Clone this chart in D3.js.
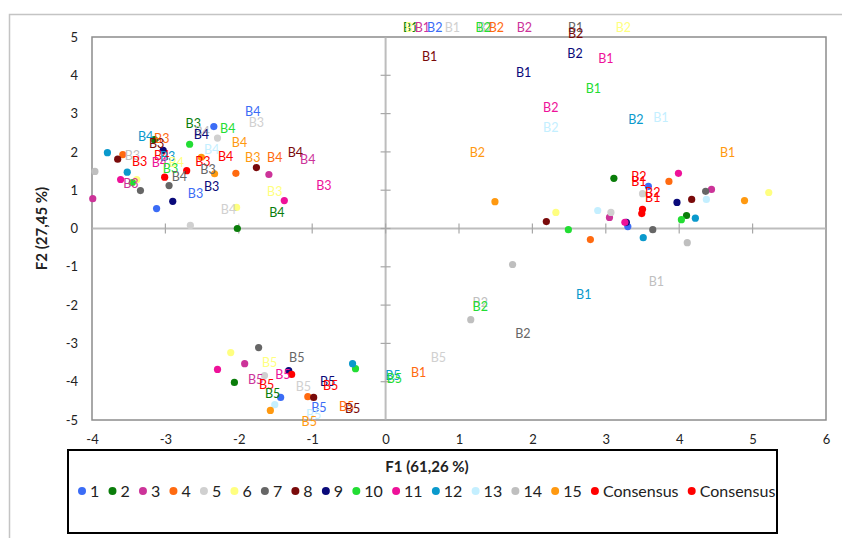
<!DOCTYPE html>
<html>
<head>
<meta charset="utf-8">
<script src="https://cdn.jsdelivr.net/npm/d3@7/dist/d3.min.js"></script>
<style>
  body { margin: 0; background: #fff; }
  svg { display: block; font-family: Lato, 'Liberation Sans', sans-serif; }
</style>
</head>
<body>
<svg id="chart"></svg>
<script>
const seriesNames = ['1', '2', '3', '4', '5', '6', '7', '8', '9', '10', '11', '12', '13', '14', '15', 'Consensus', 'Consensus'];
const seriesColors = ['#3b6cf6', '#0a7d0a', '#cc3399', '#ff6a10', '#d0d0d0', '#ffff80', '#666666', '#7a0a0a',
  '#0a0a7a', '#22dd33', '#ee1199', '#0a99cc', '#c4efff', '#bfbfbf', '#ff9910', '#ff0000', '#ff0000'];

const xTicks = [-4, -3, -2, -1, 0, 1, 2, 3, 4, 5, 6];
const yTicks = [-5, -4, -3, -2, -1, 0, 1, 2, 3, 4, 5];

// markers: [series number, F1, F2]
const points = [
  [1, -3.12, 0.52], [1, -2.34, 2.66], [1, 3.58, 1.10], [1, 3.30, 0.05], [1, -1.43, -4.41],
  [2, -2.02, 0.00], [2, 3.11, 1.31], [2, 4.10, 0.34], [2, -2.06, -4.02], [2, -3.15, 2.32],
  [3, -3.99, 0.78], [3, -1.59, 1.41], [3, 4.44, 1.02], [3, 3.05, 0.29], [3, -1.92, -3.53],
  [4, -3.58, 1.93], [4, -2.04, 1.44], [4, 3.86, 1.23], [4, 2.79, -0.29], [4, -1.06, -4.39],
  [5, -2.29, 2.36], [5, 3.50, 0.91], [5, 3.07, 0.42], [5, -1.65, -3.84], [5, -2.66, 0.08],
  [6, -3.39, 1.28], [6, -2.03, 0.55], [6, 5.22, 0.94], [6, 2.32, 0.42], [6, -2.11, -3.24],
  [7, -3.34, 0.99], [7, -2.95, 1.12], [7, 4.36, 0.97], [7, 3.64, -0.03], [7, -1.73, -3.11],
  [8, -3.65, 1.81], [8, -1.76, 1.59], [8, 4.17, 0.76], [8, 2.19, 0.18], [8, -0.98, -4.41],
  [9, -2.90, 0.71], [9, -3.03, 2.04], [9, 3.97, 0.68], [9, 3.28, 0.16], [9, -1.32, -3.71],
  [10, -3.45, 1.20], [10, -2.67, 2.20], [10, 4.03, 0.23], [10, 2.49, -0.03], [10, -0.41, -3.66],
  [11, -3.61, 1.28], [11, -1.38, 0.73], [11, 3.99, 1.44], [11, 3.26, 0.16], [11, -2.29, -3.68],
  [12, -3.79, 1.98], [12, -3.52, 1.47], [12, 4.22, 0.27], [12, 3.51, -0.24], [12, -0.45, -3.53],
  [13, 2.89, 0.47], [13, 4.37, 0.76], [13, -1.51, -4.60],
  [14, -3.96, 1.49], [14, 1.73, -0.94], [14, 1.16, -2.38], [14, 4.11, -0.37],
  [15, -2.51, 1.86], [15, -2.33, 1.43], [15, 1.49, 0.70], [15, 4.89, 0.73], [15, -1.57, -4.75],
  [16, -3.01, 1.34], [16, -2.71, 1.51], [16, -1.28, -3.81],
  [17, 3.50, 0.50], [17, 3.49, 0.39]
];

// product labels: [series number, text, F1, F2]
const labels = [
  [2, 'B1', 0.34, 5.25], [6, 'B1', 0.37, 5.25], [3, 'B1', 0.50, 5.25], [1, 'B2', 0.67, 5.25],
  [5, 'B1', 0.91, 5.25], [14, 'B2', 1.36, 5.25], [10, 'B2', 1.33, 5.25], [4, 'B2', 1.51, 5.25],
  [3, 'B2', 1.89, 5.25], [7, 'B1', 2.59, 5.25], [8, 'B2', 2.59, 5.09], [6, 'B2', 3.24, 5.25],
  [8, 'B1', 0.60, 4.49], [9, 'B2', 2.58, 4.57], [11, 'B1', 3.00, 4.44], [9, 'B1', 1.88, 4.07],
  [10, 'B1', 2.83, 3.66], [11, 'B2', 2.25, 3.16], [12, 'B2', 3.41, 2.85], [13, 'B1', 3.75, 2.90],
  [13, 'B2', 2.25, 2.64], [15, 'B2', 1.25, 1.98], [15, 'B1', 4.66, 1.98],
  [16, 'B2', 3.45, 1.36], [16, 'B1', 3.45, 1.23], [17, 'B2', 3.64, 0.94], [17, 'B1', 3.64, 0.81],
  [14, 'B1', 3.69, -1.38], [12, 'B1', 2.70, -1.73], [14, 'B2', 1.29, -1.93], [10, 'B2', 1.29, -2.04],
  [7, 'B2', 1.87, -2.75], [5, 'B5', 0.72, -3.37], [4, 'B1', 0.45, -3.75],
  [12, 'B5', 0.10, -3.84], [10, 'B5', 0.12, -3.92],
  [6, 'B5', -1.58, -3.50], [7, 'B5', -1.21, -3.37], [3, 'B5', -1.77, -3.95], [11, 'B5', -1.40, -3.82],
  [16, 'B5', -1.62, -4.07], [2, 'B5', -1.54, -4.31], [5, 'B5', -1.12, -4.12], [9, 'B5', -0.79, -3.99],
  [17, 'B5', -0.75, -4.10], [1, 'B5', -0.91, -4.67], [13, 'B5', -0.98, -4.86], [15, 'B5', -1.04, -5.04],
  [4, 'B5', -0.53, -4.65], [8, 'B5', -0.45, -4.70],
  [1, 'B4', -1.81, 3.05], [5, 'B3', -1.76, 2.77], [2, 'B3', -2.62, 2.74], [14, 'B4', -2.50, 2.53],
  [9, 'B4', -2.51, 2.45], [10, 'B4', -2.15, 2.60], [15, 'B4', -1.99, 2.25], [12, 'B4', -3.27, 2.40],
  [4, 'B3', -3.05, 2.36], [8, 'B3', -3.12, 2.21], [14, 'B3', -3.45, 1.90], [16, 'B3', -3.35, 1.75],
  [17, 'B4', -3.05, 1.90], [12, 'B3', -2.97, 1.88], [11, 'B4', -3.08, 1.72], [6, 'B4', -2.85, 1.72],
  [10, 'B3', -2.93, 1.57], [13, 'B4', -2.37, 2.06], [16, 'B4', -2.18, 1.89], [17, 'B3', -2.49, 1.75],
  [7, 'B3', -2.42, 1.54], [7, 'B4', -2.81, 1.36], [9, 'B3', -2.37, 1.10], [1, 'B3', -2.59, 0.92],
  [15, 'B3', -1.81, 1.85], [4, 'B4', -1.51, 1.85], [8, 'B4', -1.23, 1.99], [3, 'B4', -1.06, 1.80],
  [11, 'B3', -0.84, 1.12], [6, 'B3', -1.51, 0.97], [5, 'B4', -2.14, 0.50], [2, 'B4', -1.48, 0.42],
  [3, 'B3', -3.47, 1.17]
];

const svgWidth = 842;
const svgHeight = 538;
const plot = { left: 92, top: 37, right: 826, bottom: 420 };

const svg = d3.select('#chart')
  .attr('width', svgWidth)
  .attr('height', svgHeight);

const xScale = d3.scaleLinear().domain([-4, 6]).range([plot.left, plot.right]);
const yScale = d3.scaleLinear().domain([-5, 5]).range([plot.bottom, plot.top]);

// chart frame
svg.append('rect')
  .attr('x', 9.5).attr('y', 14.5)
  .attr('width', 900).attr('height', 600)
  .attr('fill', 'none').attr('stroke', '#c4c4c4').attr('stroke-width', 1.5);

// plot area frame
svg.append('rect')
  .attr('x', plot.left).attr('y', plot.top)
  .attr('width', plot.right - plot.left).attr('height', plot.bottom - plot.top)
  .attr('fill', 'none').attr('stroke', '#8c8c8c').attr('stroke-width', 1.5);

// axes through the origin
svg.append('line')
  .attr('x1', plot.left).attr('x2', plot.right)
  .attr('y1', yScale(0)).attr('y2', yScale(0))
  .attr('stroke', '#bdbdbd').attr('stroke-width', 2);
svg.append('line')
  .attr('x1', xScale(0)).attr('x2', xScale(0))
  .attr('y1', plot.top).attr('y2', plot.bottom)
  .attr('stroke', '#bdbdbd').attr('stroke-width', 2);

svg.append('g').selectAll('line')
  .data(xTicks).enter().append('line')
  .attr('x1', d => xScale(d)).attr('x2', d => xScale(d))
  .attr('y1', yScale(0) - 5).attr('y2', yScale(0) + 5)
  .attr('stroke', '#a8a8a8').attr('stroke-width', 1.2);
svg.append('g').selectAll('line')
  .data(yTicks).enter().append('line')
  .attr('x1', xScale(0) - 5).attr('x2', xScale(0) + 5)
  .attr('y1', d => yScale(d)).attr('y2', d => yScale(d))
  .attr('stroke', '#a8a8a8').attr('stroke-width', 1.2);

// tick labels
const xAxis = d3.axisBottom(xScale).tickValues(xTicks).tickSize(0).tickPadding(15).tickFormat(d => String(d));
const yAxis = d3.axisLeft(yScale).tickValues(yTicks).tickSize(0).tickPadding(14).tickFormat(d => String(d));

const gx = svg.append('g').attr('transform', `translate(0, ${plot.bottom})`).call(xAxis);
const gy = svg.append('g').attr('transform', `translate(${plot.left}, 0)`).call(yAxis);
[gx, gy].forEach(g => {
  g.select('.domain').remove();
  g.selectAll('text').attr('font-family', 'Lato, sans-serif').attr('font-size', 13).attr('fill', '#222');
});

// markers
svg.append('g').selectAll('circle')
  .data(points).enter().append('circle')
  .attr('cx', d => xScale(d[1]))
  .attr('cy', d => yScale(d[2]))
  .attr('r', 3.6)
  .attr('fill', d => seriesColors[d[0] - 1]);

// product labels
svg.append('g').selectAll('text')
  .data(labels).enter().append('text')
  .attr('x', d => xScale(d[2]))
  .attr('y', d => yScale(d[3]))
  .attr('dy', '0.36em')
  .attr('text-anchor', 'middle')
  .attr('font-size', 12.5)
  .attr('fill', d => seriesColors[d[0] - 1])
  .text(d => d[1]);

// y title
svg.append('text')
  .attr('transform', `translate(47, ${yScale(0)}) rotate(-90)`)
  .attr('text-anchor', 'middle')
  .attr('font-size', 15).attr('font-weight', 'bold').attr('fill', '#222')
  .text('F2 (27,45 %)');

// legend box with x title
svg.append('rect')
  .attr('x', 68).attr('y', 450)
  .attr('width', 709).attr('height', 83)
  .attr('fill', 'none').attr('stroke', '#000').attr('stroke-width', 2);

svg.append('text')
  .attr('x', 427).attr('y', 467).attr('dy', '0.36em')
  .attr('text-anchor', 'middle')
  .attr('font-size', 15).attr('font-weight', 'bold').attr('fill', '#222')
  .text('F1 (61,26 %)');

const legend = svg.append('g');
let lx = 82;
seriesNames.forEach((name, i) => {
  legend.append('circle')
    .attr('cx', lx).attr('cy', 491).attr('r', 4)
    .attr('fill', seriesColors[i]);
  const t = legend.append('text')
    .attr('x', lx + 8).attr('y', 491).attr('dy', '0.36em')
    .attr('font-size', 16).attr('fill', '#222')
    .text(name);
  lx += 8 + t.node().getComputedTextLength() + 13.2;
});
</script>
</body>
</html>
